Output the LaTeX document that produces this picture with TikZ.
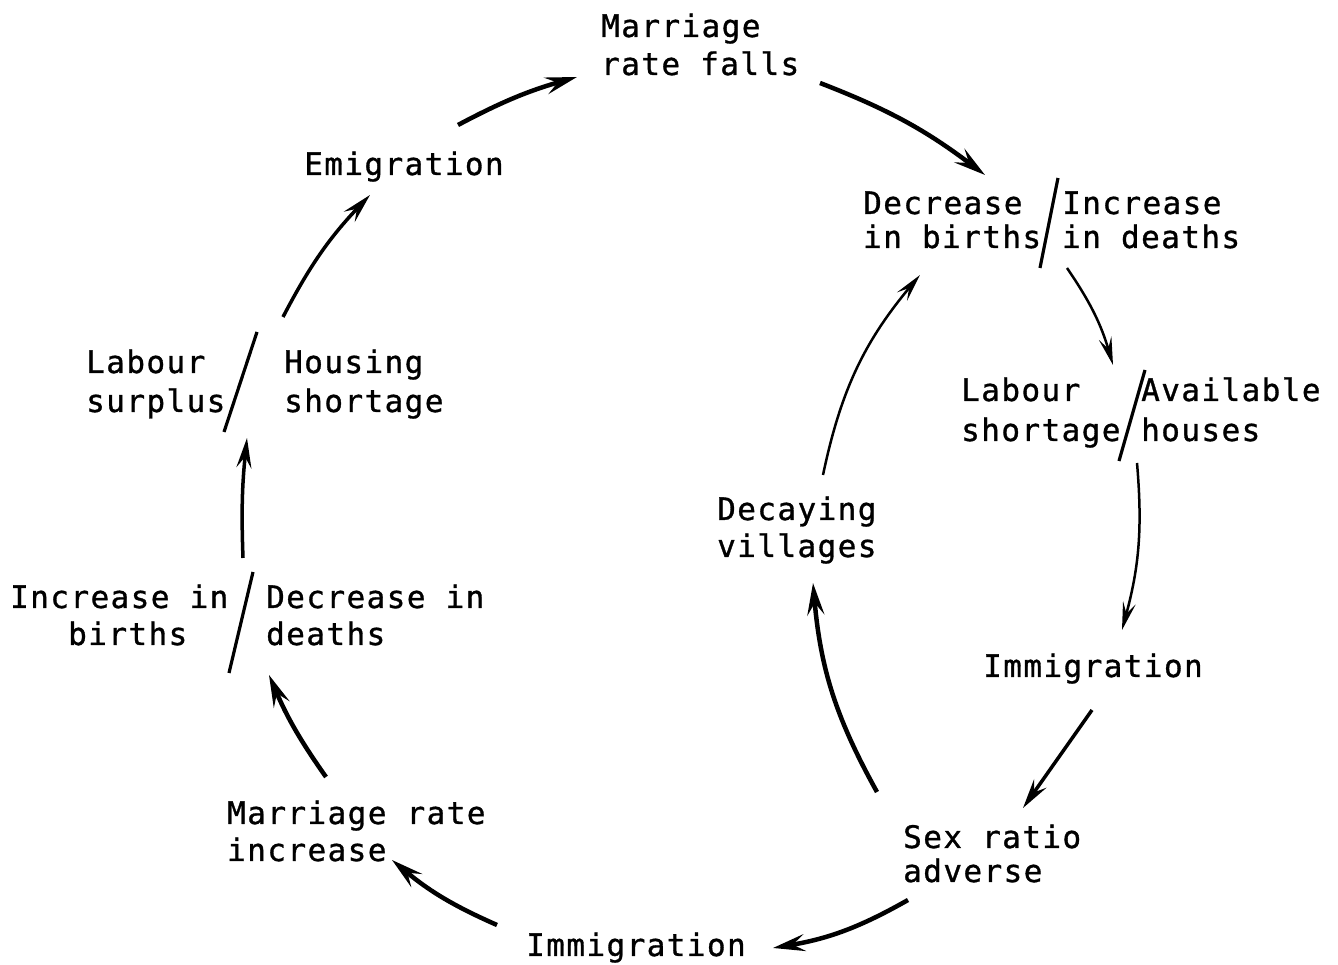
\documentclass[tikz,border=0pt]{standalone}
\usepackage{fontspec}
\newfontfamily\mono[LetterSpace=4.6,FakeBold=1]{DejaVu Sans Mono}
\usetikzlibrary{arrows.meta}
\newcommand\twoln[3]{\vtop{\baselineskip=#3pt\hbox{#1}\hbox{#2}}}
\begin{document}
\begin{tikzpicture}[x=1pt,y=1pt,
  lbl/.style={font=\mono\fontsize{31}{38}\selectfont, inner sep=0pt, anchor=base west},
  thickarrow/.style={line width=4.5pt, -{Stealth[length=32pt,width=17pt,inset=12pt]}},
  midarrow/.style={line width=3.5pt, -{Stealth[length=30pt,width=15pt,inset=11pt]}},
  thinarrow/.style={line width=2.5pt, -{Stealth[length=28pt,width=13pt,inset=11pt]}},
  sep/.style={line width=3.2pt}]
\useasboundingbox (0,0) rectangle (1338,965);
\fill[white] (0,0) rectangle (1338,965);

% nodes
\node[lbl] (mrf) at (601,928) {\twoln{Marriage}{rate falls}{38}};
\node[lbl] (dib) at (863,751) {\twoln{Decrease}{in births}{34}};
\node[lbl] (iid) at (1062,751) {\twoln{Increase}{in deaths}{34}};
\node[lbl] (ls)  at (961,564) {\twoln{Labour}{shortage}{40}};
\node[lbl] (ah)  at (1141,564) {\twoln{Available}{houses}{40}};
\node[lbl] (imr) at (983,288) {Immigration};
\node[lbl] (sra) at (903,117) {\twoln{Sex ratio}{adverse}{34}};
\node[lbl] (imb) at (526,9) {Immigration};
\node[lbl] (mri) at (227,141) {\twoln{Marriage rate}{increase}{37}};
\node[lbl] (iib) at (10,357) {\twoln{Increase in}{\hskip58pt births}{37}};
\node[lbl] (did) at (266,357) {\twoln{Decrease in}{deaths}{37}};
\node[lbl] (lsu) at (86,592) {\twoln{Labour}{surplus}{39}};
\node[lbl] (hs)  at (284,592) {\twoln{Housing}{shortage}{39}};
\node[lbl] (emi) at (304,790) {Emigration};
\node[lbl] (dv)  at (717,445) {\twoln{Decaying}{villages}{37}};

% separators
\draw[sep] (1058,787) -- (1040,697);
\draw[sep] (1145,595) -- (1119,504);
\draw[sep] (253,393) -- (229,292);
\draw[sep] (257,633) -- (224,533);

% connectors (offsets relative to node base points)
\draw[thickarrow] ([shift={(154,50)}]emi.base west) to[bend left=6] ([shift={(-24,-40)}]mrf.base west);
\draw[thickarrow] ([shift={(219,-46)}]mrf.base west) to[bend left=8] ([shift={(122,39)}]dib.base west);
\draw[thinarrow]  ([shift={(5,-54)}]iid.base west) to[bend left=9] ([shift={(152,36)}]ls.base west);
\draw[thinarrow]  ([shift={(-4,-62)}]ah.base west) to[bend left=10] ([shift={(139,47)}]imr.base west);
\draw[midarrow]   ([shift={(109,-33)}]imr.base west) -- ([shift={(120,40)}]sra.base west);
\draw[thickarrow] ([shift={(5,-52)}]sra.base west) to[bend left=10] ([shift={(247,8)}]imb.base west);
\draw[thickarrow] ([shift={(-29,31)}]imb.base west) to[bend left=8] ([shift={(165,-36)}]mri.base west);
\draw[thickarrow] ([shift={(99,47)}]mri.base west) to[bend left=6] ([shift={(3,-67)}]did.base west);
\draw[midarrow]   ([shift={(233,50)}]iib.base west) to[bend left=4] ([shift={(161,-65)}]lsu.base west);
\draw[midarrow]   ([shift={(-1,56)}]hs.base west) to[bend left=8] ([shift={(66,-20)}]emi.base west);
\draw[thickarrow] ([shift={(-26,56)}]sra.base west) to[bend left=12] ([shift={(96,-63)}]dv.base west);
\draw[thinarrow]  ([shift={(106,45)}]dv.base west) to[bend left=14] ([shift={(57,-61)}]dib.base west);
\end{tikzpicture}
\end{document}
